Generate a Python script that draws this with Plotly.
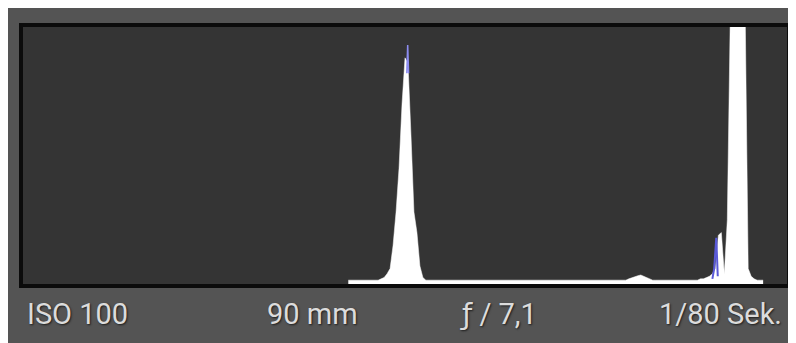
import plotly.graph_objects as go

# ---- data (histogram bins 0..255, values in % of display height) ----
bin_start = 109
hist_values = (
    [1.5] * 11                                   # 109-119
    + [2, 2.5, 4, 6, 15, 28, 45, 70, 88, 86, 58, 28, 20, 7, 2.5]   # 120-134
    + [1.5] * 68                                 # 135-202
    + [2, 2.5, 3, 3.2, 3.5, 3, 2.5, 2]           # 203-210
    + [1.5] * 16                                 # 211-226
    + [2, 2, 2.5, 3, 4, 6, 19, 20, 4, 25, 105, 105, 105, 105, 105, 105, 6, 3, 2]  # 227-245
    + [1.5, 1.5, 1.5]                            # 246-248
)
hist_bins = list(range(bin_start, bin_start + len(hist_values)))

blue_bins = [128.6, 128.9, 129.2]
blue_values = [82, 93, 82]
blue2_bins = [231.0, 231.6, 232.3, 232.8]
blue2_values = [2, 6, 18, 3]

labels = ["ISO 100", "90 mm",
          "<span style='font-family:DejaVu Sans'>ƒ</span> / 7,1", "1/80 Sek."]
label_px = [17, 257, 450, 649]

# page body has an 8px margin, so figure coordinates = screenshot - 8
W, H = 788, 335
L, R, T, B = 15, 9, 19, 59
pw, ph = W - L - R, H - T - B

fig = go.Figure()
fig.add_trace(go.Scatter(x=hist_bins, y=hist_values, mode="lines",
                         line=dict(color="#ffffff", width=0.5, shape="linear"),
                         fill="tozeroy", fillcolor="#ffffff", hoverinfo="skip"))
fig.add_trace(go.Scatter(x=blue_bins, y=blue_values, mode="lines",
                         line=dict(color="#8c8cf0", width=1.5), hoverinfo="skip"))
fig.add_trace(go.Scatter(x=blue2_bins, y=blue2_values, mode="lines",
                         line=dict(color="#5a5ad8", width=2), hoverinfo="skip"))

def px_x(px):
    return (px - L) / pw

def px_y(py):
    return (H - B - py) / ph

shapes = [
    dict(type="rect", xref="paper", yref="paper",
         x0=px_x(L - 2), x1=px_x(L + pw + 2), y0=px_y(H - B + 2), y1=px_y(T - 2),
         line=dict(color="#0b0b0b", width=4), fillcolor="rgba(0,0,0,0)"),
]

annotations = [
    dict(text=t, x=px_x(p), y=px_y(306), xref="paper", yref="paper",
         xanchor="left", yanchor="middle", showarrow=False,
         font=dict(family="Roboto", size=29, color="#dcdcdc",
                   shadow="1px 1px 2px #1e1e1e"))
    for t, p in zip(labels, label_px)
]

fig.update_layout(
    width=W, height=H,
    margin=dict(l=L, r=R, t=T, b=B, pad=0),
    paper_bgcolor="#545454", plot_bgcolor="#343434",
    showlegend=False,
    xaxis=dict(range=[0, 256], visible=False, fixedrange=True),
    yaxis=dict(range=[0, 100], visible=False, fixedrange=True),
    shapes=shapes, annotations=annotations,
)

fig.write_html("out.html")
